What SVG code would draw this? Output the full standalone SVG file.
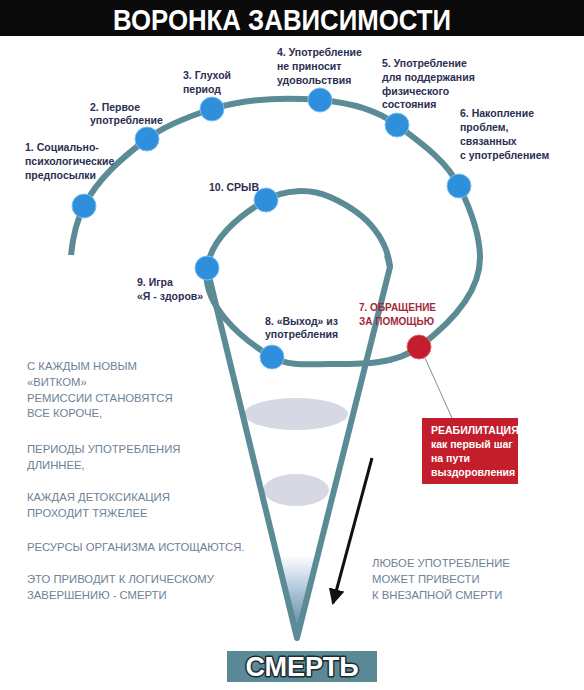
<svg xmlns="http://www.w3.org/2000/svg" width="584" height="690" viewBox="0 0 584 690">
<style>
.lbl{font-family:"Liberation Sans",Arial,sans-serif;font-weight:bold;font-size:10.5px;fill:#2b2e52}
.red{font-family:"Liberation Sans",Arial,sans-serif;font-weight:bold;font-size:10px;fill:#a3283a}
.side{font-family:"Liberation Sans",Arial,sans-serif;font-size:11.3px;fill:#6d8297}
.box{font-family:"Liberation Sans",Arial,sans-serif;font-weight:bold;font-size:10.5px;fill:#ffffff}
.node{fill:#2e8fdc;stroke:#7fc0f0;stroke-width:1}
.track{fill:none;stroke:#5b8b95;stroke-width:6;stroke-linecap:butt;stroke-linejoin:round}
</style>
<defs>
<linearGradient id="tipGrad" x1="0" y1="0" x2="0" y2="1">
<stop offset="0" stop-color="#ffffff"/>
<stop offset="0.45" stop-color="#a9c2d8"/>
<stop offset="1" stop-color="#4f7f90"/>
</linearGradient>
<marker id="arrowHead" markerUnits="userSpaceOnUse" markerWidth="18" markerHeight="18" refX="14" refY="8" orient="auto">
<path d="M0,0 L16,8 L0,16 Z" fill="#111111"/>
</marker>
</defs>
<rect x="0" y="0" width="584" height="690" fill="#ffffff"/>
<g id="title">
<rect x="0" y="0" width="584" height="36" fill="#0a0a0a"/>
<text x="113" y="30" font-family="'Liberation Sans',Arial,sans-serif" font-weight="bold" font-size="30" fill="#ffffff" textLength="338" lengthAdjust="spacingAndGlyphs">ВОРОНКА ЗАВИСИМОСТИ</text>
</g>
<g id="layers">
<ellipse cx="296" cy="414" rx="52" ry="16" fill="#d6d8e4"/>
<ellipse cx="296" cy="490" rx="33" ry="16" fill="#d6d8e4"/>
<polygon points="277,555 318,555 297,638" fill="url(#tipGrad)"/>
</g>
<g id="connectors">
<path class="track" d="M71,255 C72.7,238 76.3,221.1 84,206 C97.8,178.7 122.4,157.4 147,139 C166.1,124.7 189.3,116.2 212,109 C246.4,98.1 284,97.1 320,100 C346.9,102.2 375.4,108.8 397,125 C420.2,142.4 446,160.1 459,186 C470.2,208.4 480,233 480,258 C480,294 447.8,325.4 419,347 C395,365 360,364 330,364 C310.5,364 288.8,366.9 272,357 C240.4,338.4 201.6,304.3 207,268 C211.4,238.3 240.1,215.2 266,200 C284.4,189.2 310.4,188.3 330,197 C347,204.6 363.8,215.1 375,230 C383,240.6 388.7,253.7 390,267"/>
<path class="track" d="M387,255 L390,267 L297,638 L207,268" stroke-linejoin="miter" stroke-miterlimit="20"/>
<line x1="425" y1="358" x2="452" y2="418" stroke="#8a8a8a" stroke-width="1"/>
<line x1="372" y1="458" x2="333" y2="603" stroke="#111111" stroke-width="3" marker-end="url(#arrowHead)"/>
</g>
<g id="n1"><circle class="node" cx="84" cy="206" r="12"/>
<text class="lbl"><tspan x="25" y="151">1. Социально-</tspan><tspan x="25" y="165">психологические</tspan><tspan x="25" y="179">предпосылки</tspan></text></g>
<g id="n2"><circle class="node" cx="147" cy="139" r="12"/>
<text class="lbl"><tspan x="90" y="111">2. Первое</tspan><tspan x="90" y="124">употребление</tspan></text></g>
<g id="n3"><circle class="node" cx="212" cy="109" r="12"/>
<text class="lbl"><tspan x="183" y="79">3. Глухой</tspan><tspan x="183" y="93">период</tspan></text></g>
<g id="n4"><circle class="node" cx="320" cy="100" r="12"/>
<text class="lbl"><tspan x="277" y="56">4. Употребление</tspan><tspan x="277" y="70">не приносит</tspan><tspan x="277" y="84">удовольствия</tspan></text></g>
<g id="n5"><circle class="node" cx="397" cy="125" r="12"/>
<text class="lbl"><tspan x="382" y="67">5. Употребление</tspan><tspan x="382" y="81">для поддержания</tspan><tspan x="382" y="95">физического</tspan><tspan x="382" y="108">состояния</tspan></text></g>
<g id="n6"><circle class="node" cx="459" cy="186" r="12"/>
<text class="lbl"><tspan x="460" y="117">6. Накопление</tspan><tspan x="460" y="131">проблем,</tspan><tspan x="460" y="145">связанных</tspan><tspan x="460" y="159">с употреблением</tspan></text></g>
<g id="n7"><circle cx="419" cy="347" r="12" fill="#c41e2e" stroke="#e06070" stroke-width="1"/>
<text class="red"><tspan x="359" y="311">7. ОБРАЩЕНИЕ</tspan><tspan x="359" y="325">ЗА ПОМОЩЬЮ</tspan></text></g>
<g id="n8"><circle class="node" cx="272" cy="357" r="12"/>
<text class="lbl"><tspan x="265" y="325">8. «Выход» из</tspan><tspan x="265" y="338">употребления</tspan></text></g>
<g id="n9"><circle class="node" cx="207" cy="268" r="12"/>
<text class="lbl"><tspan x="137" y="286">9. Игра</tspan><tspan x="137" y="300">«Я - здоров»</tspan></text></g>
<g id="n10"><circle class="node" cx="266" cy="200" r="12"/>
<text class="lbl" x="209" y="191">10. СРЫВ</text></g>
<g id="rehab">
<rect x="422" y="418" width="96" height="66" fill="#c41e2c"/>
<text class="box"><tspan x="431" y="434">РЕАБИЛИТАЦИЯ</tspan><tspan x="431" y="448">как первый шаг</tspan><tspan x="431" y="462">на пути</tspan><tspan x="431" y="476">выздоровления</tspan></text>
</g>
<g id="leftText">
<text class="side"><tspan x="27" y="370">С КАЖДЫМ НОВЫМ</tspan><tspan x="27" y="386">«ВИТКОМ»</tspan><tspan x="27" y="402">РЕМИССИИ СТАНОВЯТСЯ</tspan><tspan x="27" y="417">ВСЕ КОРОЧЕ,</tspan><tspan x="27" y="453">ПЕРИОДЫ УПОТРЕБЛЕНИЯ</tspan><tspan x="27" y="469">ДЛИННЕЕ,</tspan><tspan x="27" y="501">КАЖДАЯ ДЕТОКСИКАЦИЯ</tspan><tspan x="27" y="517">ПРОХОДИТ ТЯЖЕЛЕЕ</tspan><tspan x="27" y="551">РЕСУРСЫ ОРГАНИЗМА ИСТОЩАЮТСЯ.</tspan><tspan x="27" y="583">ЭТО ПРИВОДИТ К ЛОГИЧЕСКОМУ</tspan><tspan x="27" y="599">ЗАВЕРШЕНИЮ - СМЕРТИ</tspan></text>
</g>
<g id="rightText">
<text class="side"><tspan x="372" y="567">ЛЮБОЕ УПОТРЕБЛЕНИЕ</tspan><tspan x="372" y="583">МОЖЕТ ПРИВЕСТИ</tspan><tspan x="372" y="599">К ВНЕЗАПНОЙ СМЕРТИ</tspan></text>
</g>
<g id="death">
<rect x="227" y="651" width="150" height="31" fill="#5a8a96"/>
<text x="302" y="676" text-anchor="middle" font-family="'Liberation Sans',Arial,sans-serif" font-weight="bold" font-size="27" fill="#ffffff" stroke="#1d2b30" stroke-width="3" paint-order="stroke" stroke-linejoin="round">СМЕРТЬ</text>
</g>
</svg>
